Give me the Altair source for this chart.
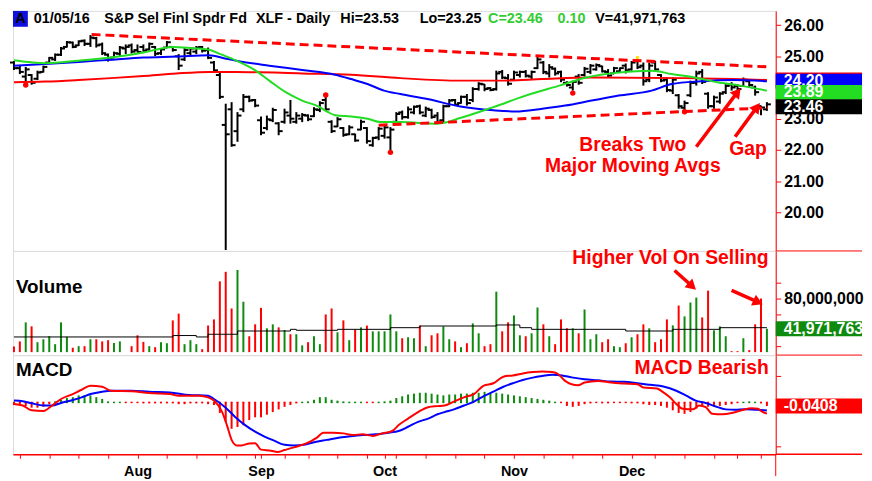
import altair as alt
import pandas as pd

FONT = "Liberation Sans"
RED = "#ff0000"
BLUE = "#0000ff"
GREEN_MA = "#22dd22"
GREEN_VOL = "#0e8a0e"
GREEN_HIST = "#44ee22"

W = 769
H_P, H_V, H_M = 242, 105, 100
RIGHT = 87
XDOM = [-0.17, 129.5]

# ---------------- data (trading-day index 0 = Jul 2 2015 ... 128 = Jan 5 2016) ----------------
highs = [24.85, 24.72, 24.66, 24.43, 24.54, 24.70, 24.98, 25.09, 25.30, 25.49,
         25.47, 25.51, 25.54, 25.68, 25.62, 25.44, 25.09, 25.15, 25.33, 25.38,
         25.41, 25.38, 25.38, 25.44, 25.33, 25.26, 25.49, 25.33, 25.07, 25.26,
         25.28, 25.33, 25.33, 25.28, 24.85, 24.50, 23.48, 23.53, 23.21, 23.79,
         23.74, 23.63, 23.07, 23.10, 23.35, 22.89, 23.32, 23.60, 23.21, 23.18,
         23.14, 23.37, 23.56, 23.70, 22.95, 23.05, 22.73, 22.79, 22.52, 22.97,
         22.73, 22.42, 22.73, 22.79, 22.73, 23.21, 23.26, 23.39, 23.42, 23.45,
         23.39, 23.32, 23.21, 23.45, 23.63, 23.63, 23.74, 23.79, 24.01, 24.17,
         24.11, 24.01, 24.54, 24.56, 24.43, 24.54, 24.54, 24.56, 24.54, 25.01,
         24.85, 24.75, 24.64, 24.54, 24.20, 24.22, 24.43, 24.66, 24.75, 24.77,
         24.70, 24.59, 24.66, 24.64, 24.77, 24.85, 24.91, 24.80, 24.80, 24.85,
         24.43, 24.32, 24.32, 23.79, 23.58, 24.22, 24.54, 24.59, 23.85, 23.74,
         23.85, 24.11, 24.17, 24.11, 24.32, 24.22, 24.06, 23.42, 23.53]
lows = [24.56, 24.43, 24.17, 24.09, 24.24, 24.48, 24.77, 24.85, 25.01, 25.28,
        25.26, 25.33, 25.33, 25.30, 25.28, 25.04, 24.83, 24.94, 25.01, 25.07,
        25.09, 25.12, 25.15, 25.19, 25.01, 25.04, 25.26, 25.15, 24.56, 24.85,
        25.01, 25.07, 25.12, 24.91, 24.51, 23.63, 18.79, 22.10, 22.26, 23.21,
        23.53, 23.37, 22.47, 22.63, 22.89, 22.47, 22.84, 22.84, 22.84, 22.89,
        22.92, 23.05, 23.21, 23.26, 22.54, 22.73, 22.42, 22.47, 22.26, 22.63,
        22.20, 22.10, 22.31, 22.36, 21.99, 22.84, 22.97, 23.00, 23.14, 23.14,
        23.05, 23.00, 22.84, 22.89, 23.37, 23.42, 23.48, 23.42, 23.53, 23.90,
        23.88, 23.88, 23.90, 24.27, 24.06, 24.22, 24.32, 24.32, 24.27, 24.59,
        24.43, 24.32, 24.38, 24.17, 24.03, 23.90, 24.09, 24.35, 24.43, 24.54,
        24.48, 24.32, 24.43, 24.48, 24.45, 24.54, 24.59, 24.06, 24.17, 24.54,
        24.17, 23.85, 23.79, 23.32, 23.26, 23.69, 24.06, 24.11, 23.32, 23.32,
        23.48, 23.79, 23.90, 23.90, 24.03, 24.01, 23.74, 23.11, 23.25]
opens = [24.80, 24.62, 24.35, 24.40, 24.28, 24.50, 24.80, 24.90, 25.05, 25.30,
         25.44, 25.35, 25.50, 25.40, 25.58, 25.38, 25.05, 24.96, 25.08, 25.25,
         25.35, 25.20, 25.30, 25.22, 25.30, 25.10, 25.28, 25.30, 25.00, 24.90,
         25.10, 25.15, 25.30, 25.20, 24.80, 24.40, 22.80, 23.30, 22.60, 23.30,
         23.70, 23.60, 22.95, 22.70, 22.95, 22.85, 22.90, 23.10, 22.90, 23.00,
         23.10, 23.08, 23.28, 23.60, 22.90, 22.75, 22.70, 22.50, 22.50, 22.65,
         22.70, 22.15, 22.40, 22.45, 22.40, 22.90, 23.20, 23.05, 23.20, 23.40,
         23.10, 23.28, 23.10, 22.95, 23.40, 23.60, 23.50, 23.70, 23.60, 23.95,
         24.10, 23.98, 23.95, 24.50, 24.30, 24.25, 24.40, 24.50, 24.35, 24.62,
         24.80, 24.45, 24.60, 24.50, 24.15, 24.00, 24.35, 24.40, 24.50, 24.58,
         24.68, 24.50, 24.45, 24.52, 24.70, 24.58, 24.85, 24.70, 24.25, 24.80,
         24.40, 24.25, 23.90, 23.75, 23.35, 23.75, 24.15, 24.50, 23.80, 23.40,
         23.55, 23.85, 24.10, 24.05, 24.05, 24.20, 24.00, 23.40, 23.30]
closes = [24.62, 24.50, 24.58, 24.15, 24.48, 24.66, 24.95, 25.05, 25.25, 25.45,
          25.30, 25.48, 25.40, 25.60, 25.35, 25.10, 24.90, 25.10, 25.28, 25.30,
          25.15, 25.14, 25.18, 25.40, 25.08, 25.22, 25.45, 25.20, 24.70, 25.20,
          25.25, 25.28, 25.18, 24.95, 24.55, 23.70, 22.50, 22.15, 23.10, 23.70,
          23.58, 23.42, 22.55, 22.98, 23.28, 22.60, 23.20, 23.00, 23.10, 23.12,
          22.98, 23.30, 23.50, 23.30, 22.60, 22.98, 22.48, 22.72, 22.30, 22.90,
          22.28, 22.38, 22.68, 22.72, 22.65, 23.15, 23.05, 23.30, 23.38, 23.20,
          23.32, 23.05, 22.90, 23.40, 23.58, 23.45, 23.70, 23.50, 23.95, 24.12,
          23.95, 23.92, 24.45, 24.32, 24.12, 24.48, 24.50, 24.38, 24.50, 24.90,
          24.50, 24.65, 24.45, 24.25, 24.08, 24.18, 24.15, 24.60, 24.70, 24.72,
          24.52, 24.38, 24.62, 24.62, 24.55, 24.80, 24.65, 24.20, 24.70, 24.58,
          24.22, 23.92, 24.25, 23.40, 23.50, 24.15, 24.45, 24.18, 23.40, 23.68,
          23.80, 24.05, 24.00, 23.95, 24.25, 24.08, 23.85, 23.36, 23.46]

# volume in millions of shares, and bar colour (g = up, r = down)
volumes = [19.6, 26, 50, 45, 25, 28.7, 32.5, 22.5, 50, 31.7,
           18, 20, 20, 28.7, 28.7, 26, 27.5, 24, 26, 12.5,
           20, 33.7, 25.4, 20, 18.7, 25, 23.7, 52.5, 61, 22.5,
           27.5, 22.5, 16.2, 46, 53.7, 101.7, 113.7, 67.5, 116, 76,
           32.5, 47.5, 68.3, 42.5, 47.5, 43.7, 40.4, 35, 35, 21,
           25, 32.5, 22.5, 60, 67.5, 37.5, 52.5, 27.5, 41, 43.7,
           46, 38.7, 38.7, 38.7, 60, 38.7, 30, 31.2, 30, 46,
           20, 33.7, 36.2, 45, 28.7, 26, 18.7, 23.7, 48.7, 36.2,
           20, 22.5, 88.7, 38.7, 50, 58.7, 33.7, 32.5, 36.2, 68.7,
           47.5, 32.5, 22.5, 53.7, 42.5, 42.5, 36.2, 66.2, 28.7, 35,
           25, 28.7, 20, 18.7, 23.7, 31.2, 35, 47.5, 42.5, 25,
           28.7, 53.7, 46.2, 71.2, 57.5, 75, 81.2, 56.2, 90, 40,
           45, 32.5, 13.7, 13.7, 30, 15, 47.5, 80, 41.97]
vol_colors = ['r', 'r', 'g', 'r', 'g', 'g', 'g', 'g', 'g', 'g',
              'r', 'g', 'r', 'g', 'r', 'r', 'r', 'g', 'g', 'g',
              'r', 'r', 'r', 'g', 'r', 'g', 'g', 'r', 'r', 'g',
              'g', 'g', 'r', 'r', 'r', 'r', 'r', 'r', 'g', 'g',
              'r', 'r', 'r', 'g', 'g', 'r', 'g', 'r', 'g', 'g',
              'r', 'g', 'g', 'r', 'r', 'g', 'r', 'g', 'r', 'g',
              'r', 'g', 'g', 'g', 'g', 'g', 'r', 'g', 'g', 'r',
              'g', 'r', 'r', 'g', 'g', 'r', 'g', 'r', 'g', 'g',
              'r', 'r', 'g', 'r', 'r', 'g', 'g', 'r', 'g', 'g',
              'r', 'g', 'r', 'r', 'r', 'g', 'r', 'g', 'g', 'g',
              'r', 'r', 'g', 'g', 'r', 'g', 'r', 'r', 'g', 'r',
              'r', 'r', 'g', 'r', 'g', 'g', 'g', 'r', 'r', 'g',
              'g', 'g', 'r', 'r', 'g', 'r', 'r', 'r', 'g']
vol_ma_idx = [0, 27, 31, 33, 38, 47, 48, 55, 64, 69, 82, 86, 88, 104, 112, 120, 128]
vol_ma_val = [31.6, 33.4, 31.6, 35, 39.1, 41.2, 40, 41.2, 43.3, 45.4, 46.7, 43.3, 41.2, 39.1, 41.2, 43.3, 43.3]

# price moving averages
ma_red_idx = [0, 5.3, 11, 16.5, 22, 27.6, 33.2, 37.8, 49, 57.3, 65.7, 75.9, 83.2, 89.8, 98.2, 114, 122.3, 128]
ma_red_val = [24.17, 24.19, 24.24, 24.30, 24.37, 24.45, 24.50, 24.50, 24.45, 24.41, 24.30, 24.22, 24.22, 24.27, 24.32, 24.30, 24.27, 24.24]
ma_blue_idx = [0, 5.3, 11, 16.5, 22, 27.6, 33.2, 35.7, 37.8, 43.4, 49, 54.6, 57.3, 60.1, 62.9, 65.7, 70.3,
               75.9, 81.5, 85.3, 89.8, 93.7, 98.2, 102.8, 108.4, 111.8, 116.8, 122.3, 128]
ma_blue_val = [24.70, 24.75, 24.82, 24.89, 24.96, 24.99, 25.03, 24.94, 24.86, 24.70, 24.56, 24.41, 24.27, 24.11,
               23.90, 23.79, 23.63, 23.39, 23.27, 23.23, 23.32, 23.42, 23.58, 23.74, 23.90, 24.11, 24.20, 24.24, 24.20]
ma_green_idx = [0, 3.2, 5.3, 11, 16.5, 22, 25.3, 27, 30.3, 33.2, 35.1, 37.8, 40.7, 43.4, 46.2, 49, 51.8, 53.4,
                54.6, 57.3, 60.1, 62.3, 65.7, 72, 76, 81.5, 87, 92.7, 97.3, 102.9, 108.5, 111.8, 115.7, 119.6,
                123.4, 128]
ma_green_val = [24.87, 24.80, 24.78, 24.86, 24.96, 25.12, 25.26, 25.30, 25.26, 25.21, 25.07, 24.86, 24.59, 24.22,
                23.85, 23.58, 23.39, 23.21, 23.11, 23.07, 23.00, 22.89, 22.89, 22.84, 23.03, 23.37, 23.74, 24.06,
                24.32, 24.48, 24.54, 24.43, 24.32, 24.17, 24.06, 23.90]

# trend lines (dashed)
trend_name = ["upper", "upper", "lower", "lower"]
trend_idx = [13.2, 128.2, 62, 128.2]
trend_val = [25.70, 24.66, 22.79, 23.35]

# swing markers
dot_idx = [2, 53, 64, 95, 114]
dot_val = [24.08, 23.76, 21.92, 23.82, 23.22]

# MACD
macd_idx = [0, 1.5, 3, 5, 6.5, 8, 10, 11.5, 13, 15, 16.5, 20, 23, 26.5, 28, 31.5, 33, 34, 35.4, 36.2,
            37, 37.9, 38.7, 40, 41, 42, 43.7, 44.8, 46, 47.6, 49.8, 51.5, 52.6, 54.3, 56, 57.6, 59.3, 61, 62.6,
            64.3, 65.4, 67, 68.7, 70.4, 72, 73.2, 74.8, 76.5, 78.2, 79.8, 81.5, 83.2, 84.8, 86.5, 88.2, 89.8,
            91.5, 92.6, 93.7, 94.8, 95.9, 97, 99.3, 101.5, 103.7, 106, 107, 109.3, 110.4, 111.5, 112.6, 113.7,
            115.4, 116.5, 117.6, 118.7, 120.4, 122, 123.7, 125.4, 126.5, 127, 128]
macd_val = [-0.017, -0.035, -0.09, -0.098, -0.035, 0.039, 0.095, 0.144, 0.189, 0.178, 0.133, 0.128, 0.106,
            0.095, 0.077, 0.077, 0.058, 0.021, -0.11, -0.258, -0.426, -0.489, -0.489, -0.467, -0.464, -0.537,
            -0.549, -0.564, -0.542, -0.512, -0.464, -0.40, -0.344, -0.344, -0.352, -0.37, -0.363, -0.381, -0.352,
            -0.325, -0.258, -0.184, -0.11, -0.054, -0.042, -0.035, 0.01, 0.058, 0.095, 0.189, 0.218, 0.293, 0.307,
            0.33, 0.345, 0.352, 0.345, 0.318, 0.245, 0.207, 0.196, 0.226, 0.245, 0.226, 0.215, 0.207, 0.17, 0.159,
            0.114, 0.058, -0.017, -0.073, -0.079, -0.035, -0.054, -0.128, -0.135, -0.121, -0.09, -0.065, -0.073,
            -0.098, -0.128]
signal_idx = [0, 1.5, 3, 5, 6.5, 8, 10, 11.5, 13, 15, 16.5, 20, 23, 26.5, 29.8, 33, 34, 35.9, 37.6, 39.3,
              41, 42.6, 44.3, 46, 47.6, 49.3, 51, 53.2, 55.4, 57.6, 59.8, 61.5, 63.7, 65.4, 67, 68.7, 70.4, 72,
              73.2, 74.8, 76.5, 78.2, 79.8, 81.5, 83.2, 84.8, 86.5, 88.2, 89.8, 91.5, 93.2, 94.8, 97, 99.3, 101.5,
              103.7, 106, 108.2, 110.4, 112.6, 114.3, 115.9, 117.6, 119.3, 121, 122.6, 124.3, 126, 127, 128]
signal_val = [0.021, 0.013, -0.009, -0.035, -0.035, -0.006, 0.028, 0.058, 0.095, 0.122, 0.133, 0.133, 0.122,
              0.114, 0.084, 0.077, 0.039, -0.054, -0.165, -0.258, -0.333, -0.389, -0.437, -0.482, -0.489, -0.482,
              -0.453, -0.426, -0.40, -0.381, -0.37, -0.363, -0.344, -0.325, -0.277, -0.221, -0.184, -0.135, -0.11,
              -0.079, -0.035, 0.01, 0.069, 0.122, 0.178, 0.218, 0.256, 0.282, 0.30, 0.315, 0.307, 0.285, 0.263,
              0.251, 0.237, 0.234, 0.218, 0.20, 0.181, 0.133, 0.077, 0.021, -0.006, -0.046, -0.079, -0.084, -0.079,
              -0.084, -0.087, -0.091]
hist = [-0.03, -0.03, -0.04, -0.06, -0.06, -0.05, -0.02, 0.01, 0.03, 0.05,
        0.06, 0.08, 0.08, 0.08, 0.06, 0.04, 0.01, 0.005, 0.003, -0.005,
        -0.005, -0.005, -0.01, -0.01, -0.01, -0.01, -0.01, -0.01, -0.02, -0.02,
        -0.01, -0.01, -0.01, -0.02, -0.03, -0.12, -0.22, -0.30, -0.28, -0.26,
        -0.20, -0.17, -0.17, -0.14, -0.11, -0.08, -0.05, -0.03, -0.01, 0.005,
        0.01, 0.03, 0.06, 0.06, 0.03, 0.02, 0.01, 0.005, 0.005, 0.005,
        -0.005, -0.005, 0.005, 0.01, 0.02, 0.05, 0.07, 0.09, 0.10, 0.11,
        0.11, 0.10, 0.09, 0.08, 0.09, 0.09, 0.10, 0.10, 0.11, 0.11,
        0.12, 0.11, 0.11, 0.10, 0.09, 0.08, 0.07, 0.06, 0.05, 0.04,
        0.03, 0.02, 0.005, -0.005, -0.04, -0.05, -0.04, -0.02, -0.01, -0.005,
        -0.01, -0.01, -0.005, -0.005, -0.005, -0.01, -0.01, -0.02, -0.03, -0.03,
        -0.04, -0.06, -0.09, -0.12, -0.13, -0.11, -0.07, -0.05, -0.05, -0.05,
        -0.04, -0.03, -0.02, -0.005, 0.005, 0.01, 0.005, -0.01, -0.0408]

# x axis
week_ticks = [1, 6, 11, 16, 21, 26, 31, 36, 41, 46, 50, 55, 60, 65, 70, 75, 80, 85, 90, 95, 100,
              105, 109, 114, 119, 123, 127]
month_names = ["Aug", "Sep", "Oct", "Nov", "Dec"]
month_idx = [21, 42, 63, 85, 105]

# header texts
title_texts = ["01/05/16", "S&P Sel Finl Spdr Fd", "XLF - Daily", "Hi=23.53", "Lo=23.25",
               "C=23.46", "0.10", "V=41,971,763"]
title_px = [21, 92, 245, 330, 410, 479, 549, 587]
title_colors = ["black", "black", "black", "black", "black", "#33cc33", "#33cc33", "black"]

# right-hand value badges (value, label, fill, small vertical nudge to avoid full overlap)
price_badge_vals = [24.24, 24.20, 23.89, 23.46]
price_badge_text = ["", "24.20", "23.89", "23.46"]
price_badge_fill = [RED, BLUE, "#22dd22", "black"]
price_badge_nudge = [0, 0, 1.5, 2.5]
vol_badge_val, vol_badge_text = 41.97, "41,971,763"
macd_badge_val, macd_badge_text = -0.0408, "-0.0408"

# annotations
price_notes = ["Breaks Two", "Major Moving Avgs", "Gap"]
price_note_idx = [105.2, 105.2, 124.8]
price_note_val = [22.16, 21.49, 22.03]
price_arrow_from = [(116, 22.10), (122.6, 22.42)]
price_arrow_to = [(123, 23.85), (126.3, 23.37)]
price_arrow_ang = [37.6, 36.6]
vol_note, vol_note_idx, vol_note_val = "Higher Vol On Selling", 111.6, 130.9
vol_arrow_from = [(112.3, 115.4), (122, 90.4)]
vol_arrow_to = [(115.3, 95.4), (126.5, 75.4)]
vol_arrow_ang = [132.1, 114.2]
macd_note, macd_note_idx, macd_note_val = "MACD Bearish", 116.9, 0.393

# ---------------- helpers ----------------
n = len(highs)
idx = list(range(n))
one = pd.DataFrame({"k": [0]})


def xq(field, axis=None):
    return alt.X(field, type="quantitative", scale=alt.Scale(domain=XDOM, nice=False, zero=False), axis=axis)


def axis_right(values, **kw):
    return alt.Axis(orient="right", values=values, title=None, grid=False, domainColor=RED,
                    tickColor=RED, tickSize=5, labelPadding=3, labelColor="black", labelFont=FONT,
                    labelFontSize=16, labelFontWeight="bold", labelOverlap=False, **kw)


price_scale = alt.Scale(domain=[18.76, 26.455], nice=False, zero=False)
price_axis = axis_right([20, 21, 22, 23, 25, 26], format=".2f")
vol_scale = alt.Scale(domain=[8.75, 140], nice=False, zero=False)
vol_axis = axis_right([20, 40, 60, 80, 100], labelExpr="datum.value == 80 ? '80,000,000' : ''")
macd_scale = alt.Scale(domain=[-0.59, 0.5385], nice=False, zero=False)
macd_axis = axis_right([-0.5, -0.4, -0.3, -0.2, -0.1, 0, 0.1, 0.2, 0.3],
                       labelExpr="abs(datum.value - 0.2) < 0.001 ? '0.2000' : "
                                 "(abs(datum.value + 0.4) < 0.001 ? '-0.4000' : '')")

label_expr = ""
for nm, ix in zip(month_names, month_idx):
    label_expr += f"datum.value == {ix} ? '{nm}' : "
label_expr += "''"
x_axis = alt.Axis(values=sorted(set(week_ticks + month_idx)), labelExpr=label_expr, title=None, grid=False,
                  domainColor=RED, domainWidth=1.5, tickColor=RED, tickSize=4, labelColor="black",
                  labelFont=FONT, labelFontSize=14.5, labelFontWeight="bold", labelPadding=6,
                  labelFlush=False, labelOverlap=False, orient="bottom")


def yp(f):
    return alt.Y(f, type="quantitative", scale=price_scale, axis=price_axis)


def yv(f):
    return alt.Y(f, type="quantitative", scale=vol_scale, axis=vol_axis)


def ym(f):
    return alt.Y(f, type="quantitative", scale=macd_scale, axis=macd_axis)


def xm(f):
    return xq(f, axis=x_axis)


def arrows(frm, to, ang, yfun, xfun):
    df = pd.DataFrame({"i": [a[0] for a in frm], "v": [a[1] for a in frm],
                       "i2": [b[0] for b in to], "v2": [b[1] for b in to], "ang": ang})
    shaft = alt.Chart(df).mark_rule(color=RED, strokeWidth=3.5).encode(
        x=xfun("i"), y=yfun("v"), x2="i2:Q", y2="v2:Q")
    head = alt.Chart(df).mark_point(shape="triangle-up", filled=True, size=140, color=RED,
                                    opacity=1, strokeWidth=0).encode(
        x=xfun("i2"), y=yfun("v2"), angle=alt.Angle("ang:Q", scale=None))
    return [shaft, head]


def badge(val, text, fill, yfun, nudge=0, tcolor="white"):
    df = pd.DataFrame({"v": [val], "t": [text]})
    rect = alt.Chart(df).mark_rect(color=fill, yOffset=-7.5 + nudge, y2Offset=7.5 + nudge).encode(
        x=alt.value(W), x2=alt.value(W + RIGHT), y=yfun("v"), y2="v:Q")
    txt = alt.Chart(df).mark_text(align="left", baseline="middle", font=FONT, fontWeight="bold",
                                  fontSize=16, color=tcolor, dy=nudge).encode(
        x=alt.value(W + 8), y=yfun("v"), text="t:N")
    return [rect, txt]


def separator(h):
    return alt.Chart(one).mark_rule(color=RED, strokeWidth=1).encode(
        x=alt.value(W), x2=alt.value(W + RIGHT), y=alt.value(h))


# ---------------- price panel ----------------
price_df = pd.DataFrame({"i": idx, "hi": highs, "lo": lows, "op": opens, "cl": closes})
bp = alt.Chart(price_df)
hl = bp.mark_rule(color="black", strokeWidth=2).encode(x=xq("i"), y=yp("hi"), y2="lo:Q")
op_t = bp.mark_rule(color="black", strokeWidth=2, xOffset=-4, x2Offset=0).encode(
    x=xq("i"), x2="i:Q", y=yp("op"))
cl_t = bp.mark_rule(color="black", strokeWidth=2, xOffset=0, x2Offset=4).encode(
    x=xq("i"), x2="i:Q", y=yp("cl"))


def ma_line(ix, vals, color):
    return alt.Chart(pd.DataFrame({"i": ix, "v": vals})).mark_line(
        color=color, strokeWidth=2, interpolate="monotone").encode(x=xq("i"), y=yp("v"))


trend = alt.Chart(pd.DataFrame({"i": trend_idx, "v": trend_val, "name": trend_name})).mark_line(
    color=RED, strokeWidth=3, strokeDash=[9, 5]).encode(x=xq("i"), y=yp("v"), detail="name:N")
dots = alt.Chart(pd.DataFrame({"i": dot_idx, "v": dot_val})).mark_circle(
    color=RED, size=30, opacity=1).encode(x=xq("i"), y=yp("v"))
ydot = alt.Chart(pd.DataFrame({"i": [106], "v": [24.96]})).mark_circle(
    color="#ffdd00", size=12, opacity=1).encode(x=xq("i"), y=yp("v"))
notes_p = alt.Chart(pd.DataFrame({"i": price_note_idx, "v": price_note_val, "t": price_notes})).mark_text(
    color=RED, font=FONT, fontWeight="bold", fontSize=19.5, align="center", baseline="middle").encode(
    x=xq("i"), y=yp("v"), text="t:N")

title_layers = [
    alt.Chart(one).mark_rect(color="#1010dd").encode(
        x=alt.value(0), x2=alt.value(15), y=alt.value(0), y2=alt.value(16)),
    alt.Chart(one).mark_text(text="A", font=FONT, fontWeight="bold", fontSize=14.5, color="black",
                             align="center", baseline="middle").encode(x=alt.value(7.5), y=alt.value(8.5)),
]
for t, px, c in zip(title_texts, title_px, title_colors):
    title_layers.append(alt.Chart(one).mark_text(
        text=t, font=FONT, fontWeight="bold", fontSize=14.5, color=c, align="left",
        baseline="middle").encode(x=alt.value(px), y=alt.value(8.5)))

price_layers = [hl, op_t, cl_t,
                ma_line(ma_red_idx, ma_red_val, RED),
                ma_line(ma_blue_idx, ma_blue_val, BLUE),
                ma_line(ma_green_idx, ma_green_val, GREEN_MA),
                trend, dots, ydot, notes_p]
price_layers += arrows(price_arrow_from, price_arrow_to, price_arrow_ang, yp, xq)
for v, t, f, nd in zip(price_badge_vals, price_badge_text, price_badge_fill, price_badge_nudge):
    price_layers += badge(v, t, f, yp, nudge=nd)
price_layers += [separator(H_P)] + title_layers
price = alt.layer(*price_layers).properties(width=W, height=H_P)

# ---------------- volume panel ----------------
vol_df = pd.DataFrame({"i": idx, "vol": volumes, "c": vol_colors})
vbars = alt.Chart(vol_df).mark_rule(strokeWidth=2).encode(
    x=xq("i"), y=yv("vol"), y2=alt.datum(12.5),
    color=alt.Color("c:N", scale=alt.Scale(domain=["g", "r"], range=[GREEN_VOL, RED]), legend=None))
vma = alt.Chart(pd.DataFrame({"i": vol_ma_idx, "v": vol_ma_val})).mark_line(
    color="black", strokeWidth=1, interpolate="step-after").encode(x=xq("i"), y=yv("v"))
vlabel = alt.Chart(one).mark_text(text="Volume", font=FONT, fontWeight="bold", fontSize=19,
                                  color="black", align="left", baseline="middle").encode(
    x=alt.value(3), y=alt.value(36.5))
vnote = alt.Chart(pd.DataFrame({"i": [vol_note_idx], "v": [vol_note_val], "t": [vol_note]})).mark_text(
    color=RED, font=FONT, fontWeight="bold", fontSize=19.5, align="center", baseline="middle").encode(
    x=xq("i"), y=yv("v"), text="t:N")
vol_layers = [vbars, vma, vlabel, vnote]
vol_layers += arrows(vol_arrow_from, vol_arrow_to, vol_arrow_ang, yv, xq)
vol_layers += badge(vol_badge_val, vol_badge_text, GREEN_VOL, yv)
vol_layers += [separator(H_V)]
volume = alt.layer(*vol_layers).properties(width=W, height=H_V)

# ---------------- MACD panel ----------------
hist_df = pd.DataFrame({"i": idx, "h": hist, "s": ["pos" if h >= 0 else "neg" for h in hist]})
hist_color = alt.Color("s:N", scale=alt.Scale(domain=["pos", "neg"], range=[GREEN_HIST, RED]), legend=None)
hbars = alt.Chart(hist_df).mark_rule(strokeWidth=2).encode(
    x=xm("i"), y=ym("h"), y2=alt.datum(0), color=hist_color)
hzero = alt.Chart(hist_df).mark_rule(strokeWidth=1.5, xOffset=-1, x2Offset=1).encode(
    x=xm("i"), x2="i:Q", y=alt.datum(0), color=hist_color)
sig_line = alt.Chart(pd.DataFrame({"i": signal_idx, "v": signal_val})).mark_line(
    color=BLUE, strokeWidth=2, interpolate="monotone").encode(x=xm("i"), y=ym("v"))
macd_line = alt.Chart(pd.DataFrame({"i": macd_idx, "v": macd_val})).mark_line(
    color=RED, strokeWidth=2, interpolate="monotone").encode(x=xm("i"), y=ym("v"))
mlabel = alt.Chart(one).mark_text(text="MACD", font=FONT, fontWeight="bold", fontSize=19,
                                  color="black", align="left", baseline="middle").encode(
    x=alt.value(3), y=alt.value(15))
mnote = alt.Chart(pd.DataFrame({"i": [macd_note_idx], "v": [macd_note_val], "t": [macd_note]})).mark_text(
    color=RED, font=FONT, fontWeight="bold", fontSize=19.5, align="center", baseline="middle").encode(
    x=xm("i"), y=ym("v"), text="t:N")
bottom_rule = alt.Chart(one).mark_rule(color=RED, strokeWidth=1.5).encode(
    x=alt.value(W), x2=alt.value(W + RIGHT), y=alt.value(H_M))
vert_rule = alt.Chart(one).mark_rule(color=RED, strokeWidth=1).encode(
    x=alt.value(W), y=alt.value(H_M), y2=alt.value(H_M + 22))
macd_layers = [hbars, hzero, sig_line, macd_line, mlabel, mnote]
macd_layers += badge(macd_badge_val, macd_badge_text, RED, ym)
macd_layers += [bottom_rule, vert_rule]
macd = alt.layer(*macd_layers).properties(width=W, height=H_M)

chart = alt.vconcat(price, volume, macd, spacing=0, bounds="flush").properties(
    padding={"left": 0, "top": 0, "right": 0, "bottom": 0}
).configure_view(strokeWidth=0).configure(background="white")

chart.save("out.html", embed_options={"renderer": "svg", "actions": False})
